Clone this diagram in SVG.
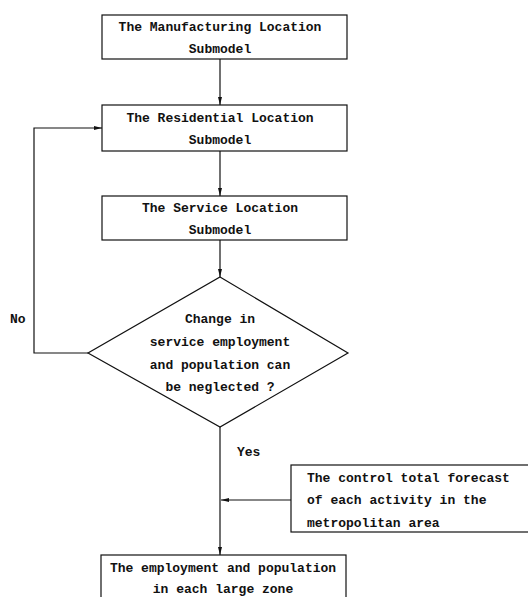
<svg xmlns="http://www.w3.org/2000/svg" width="528" height="597" viewBox="0 0 528 597">
<style>
.box{fill:#fff;stroke:#111;stroke-width:1.2}
.t{font-family:"Liberation Mono","DejaVu Sans Mono",monospace;font-size:13px;font-weight:bold;fill:#111}
.c{text-anchor:middle}
.ln{fill:none;stroke:#111;stroke-width:1.2}
</style>
<defs>
<marker id="ah" viewBox="0 0 8 4" refX="8" refY="2" markerWidth="8" markerHeight="4" markerUnits="userSpaceOnUse" orient="auto">
<path d="M0,0 L8,2 L0,4 Z" fill="#111"/>
</marker>
</defs>
<rect width="528" height="597" fill="#fff"/>
<g id="connectors">
<line class="ln" x1="220" y1="59" x2="220" y2="105" marker-end="url(#ah)"/>
<line class="ln" x1="220" y1="151" x2="220" y2="196" marker-end="url(#ah)"/>
<line class="ln" x1="220" y1="240" x2="220" y2="277" marker-end="url(#ah)"/>
<polyline class="ln" points="88,353 34,353 34,128 102,128" marker-end="url(#ah)"/>
<line class="ln" x1="220" y1="427" x2="220" y2="555" marker-end="url(#ah)"/>
<line class="ln" x1="291" y1="500" x2="221" y2="500" marker-end="url(#ah)"/>
<text class="t" x="10" y="323">No</text>
<text class="t" x="237" y="456">Yes</text>
</g>
<g id="manufacturing">
<rect class="box" x="102" y="15" width="245" height="44"/>
<text class="t c" x="220" y="31">The Manufacturing Location</text>
<text class="t c" x="220" y="53">Submodel</text>
</g>
<g id="residential">
<rect class="box" x="102" y="105" width="245" height="46"/>
<text class="t c" x="220" y="122">The Residential Location</text>
<text class="t c" x="220" y="144">Submodel</text>
</g>
<g id="service">
<rect class="box" x="102" y="196" width="245" height="44"/>
<text class="t c" x="220" y="212">The Service Location</text>
<text class="t c" x="220" y="234">Submodel</text>
</g>
<g id="decision">
<polygon class="box" points="220,277 348,353 220,427 88,353"/>
<text class="t c" x="220" y="323">Change in</text>
<text class="t c" x="220" y="346">service employment</text>
<text class="t c" x="220" y="369">and population can</text>
<text class="t c" x="220" y="391">be neglected ?</text>
</g>
<g id="control">
<rect class="box" x="291" y="465" width="250" height="67"/>
<text class="t" x="307" y="482">The control total forecast</text>
<text class="t" x="307" y="504">of each activity in the</text>
<text class="t" x="307" y="527">metropolitan area</text>
</g>
<g id="result">
<rect class="box" x="101" y="555" width="245" height="50"/>
<text class="t c" x="223" y="572">The employment and population</text>
<text class="t c" x="223" y="593">in each large zone</text>
</g>
</svg>
